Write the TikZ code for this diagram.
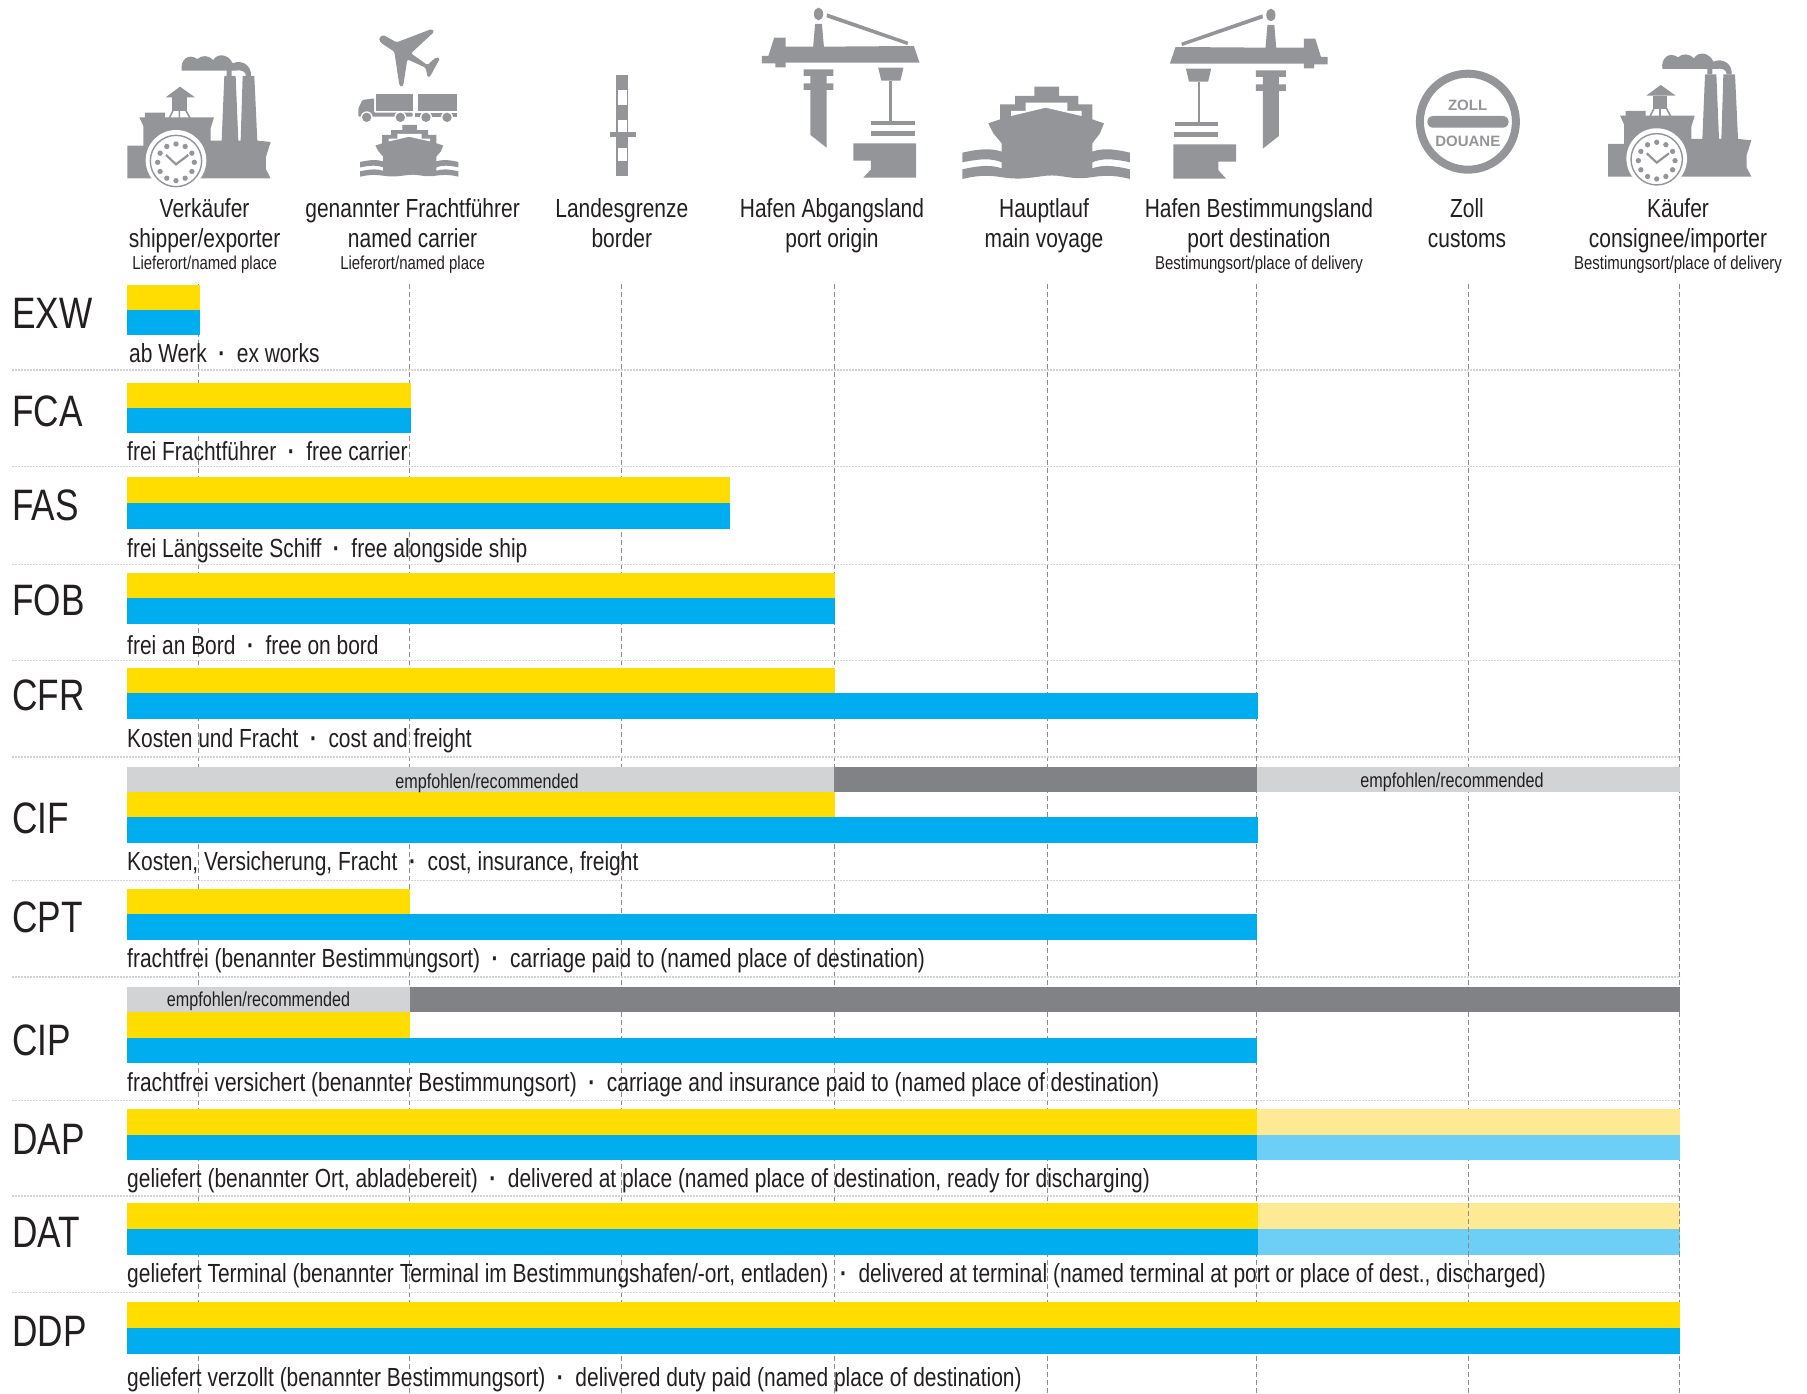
\documentclass[tikz,border=0pt]{standalone}
\usepackage{fontspec}
\setmainfont[FakeStretch=0.8]{Liberation Sans}
\newfontfamily\zollfont[Scale=1]{Liberation Sans}
\definecolor{icongrey}{HTML}{939598}
\definecolor{darkbar}{HTML}{808285}
\definecolor{lightbar}{HTML}{D1D3D4}
\definecolor{barY}{HTML}{FFDD00}
\definecolor{barB}{HTML}{00AEEF}
\definecolor{paleY}{HTML}{FEE995}
\definecolor{paleB}{HTML}{6DCFF6}
\definecolor{txt}{HTML}{231F20}
\tikzset{
 head/.style={anchor=base,inner sep=0pt,text=txt,font=\fontsize{26.2}{29}\selectfont},
 subhead/.style={anchor=base,inner sep=0pt,text=txt,font=\fontsize{18.7}{21}\selectfont},
 code/.style={anchor=base west,inner sep=0pt,text=txt,font=\fontsize{44}{46}\selectfont},
 capt/.style={anchor=base west,inner sep=0pt,text=txt,font=\fontsize{26.2}{29}\selectfont},
 rec/.style={anchor=center,inner sep=0pt,text=txt,font=\fontsize{20.2}{23}\selectfont},
 zolltext/.style={anchor=center,inner sep=0pt,text=icongrey,font=\zollfont\bfseries\fontsize{15}{17}\selectfont},
 sepline/.style={draw=lightbar,line width=1.1pt,dash pattern=on 2pt off 1pt},
 vline/.style={draw=black!45,line width=.9pt,dash pattern=on 4.5pt off 3.5pt},
 ic/.style={fill=icongrey,draw=none}
}
\newcommand{\mdt}{\hspace{.44em}\textbf{·}\hspace{.44em}}
\newcommand{\factoryicon}{%
 \fill[ic] (22,385)--(22,287)--(70,287)--(70,228)--(58,202)--(75,202)--(75,188)--(135,188)--(135,202)--(282,202)--(272,235)--(272,272)--(305,272)--(313,78)--(347,78)--(355,272)--(362,272)--(368,78)--(403,78)--(412,272)--(452,276)--(438,320)--(438,358)--(452,385)--cycle;
 \fill[ic] (180,110)--(225,142)--(137,142)--cycle;
 \fill[ic] (157,142) rectangle (200,182);
 \draw[icongrey,line width=1.6pt] (160,180)--(148,204) (197,180)--(210,204) (178,180)--(178,204);
 \fill[ic] (185,62)..controls (180,30) and (205,8)..(232,27)..controls (245,15) and (265,15)..(280,30)..controls (290,10) and (325,10)..(338,40)..controls (365,28) and (395,45)..(393,78)--(378,78)..controls (378,65) and (365,58)..(345,62)--(335,62)--(335,78)--(320,78)--(320,62)--cycle;
 \fill[white] (168,331) circle [radius=91];
 \draw[icongrey,line width=1.4pt] (168,333) circle [radius=77];
 \foreach \a in {0,30,...,330}{\fill[icongrey] (168,337)++(\a:55) circle [radius=8];}
 \draw[icongrey,line width=2.2pt] (138,315)--(168,343)--(205,315);
}
\newcommand{\craneicon}{%
 \fill[ic] (455,113)--(485,113)--(485,140)--(557,140)--(562,72)--(580,72)--(585,140)--(820,138)--(835,188)--(485,188)--(485,202)--(458,202)--(458,190)--(423,190)--(423,168)--(440,168)--cycle;
 \fill[ic] (571,42) ellipse [x radius=12,y radius=19];
 \fill[ic] (593,40)--(805,125)--(803,135)--(592,52)--cycle;
 \fill[ic] (532,208)--(610,208)--(610,228)--(592,228)--(592,250)--(610,250)--(610,270)--(592,270)--(592,443)--(550,405)--(550,270)--(532,270)--(532,250)--(550,250)--(550,228)--(532,228)--cycle;
 \fill[ic] (727,203)--(793,203)--(785,242)--(735,242)--cycle;
 \fill[ic] (755,242) rectangle (762,362);
 \fill[ic] (708,362) rectangle (822,375);
 \fill[ic] (708,394) rectangle (824,407);
 \fill[ic] (662,430)--(826,430)--(826,533)--(688,533)--(708,508)--(708,482)--(662,482)--cycle;
}
\newcommand{\shipicon}{%
 \fill[ic] (238,20)--(312,20)--(312,48)--(370,48)--(370,73)--(412,73)--(412,118)--(447,130)--(435,160)--(412,190)--(412,215)..controls (440,205) and (470,205)..(525,218)--(525,247)..controls (470,235) and (440,235)..(412,247)--(412,265)..controls (440,255) and (470,255)..(525,268)--(525,297)..controls (470,283) and (440,287)..(400,293)..controls (350,300) and (320,283)..(275,287)..controls (230,292) and (200,300)..(150,293)..controls (110,287) and (80,283)..(22,297)--(22,268)..controls (80,255) and (110,255)..(140,265)--(140,247)..controls (110,235) and (80,235)..(22,247)--(22,218)..controls (80,205) and (110,205)..(140,215)--(140,190)--(115,160)--(100,130)--(135,118)--(135,73)--(180,73)--(180,48)--(238,48)--cycle;
 \fill[white] (168,108)--(272,83)--(380,108)--(380,93)--(337,93)--(337,68)--(212,68)--(212,93)--(168,93)--cycle;
}
\begin{document}
\begin{tikzpicture}[x=1pt,y=-1pt]
\useasboundingbox (0,0) rectangle (1807,1394);
% vertical guides
\foreach \vx in {198.5,409.5,621.5,834,1047,1256.5,1468.7,1679.5}{
 \draw[vline] (\vx,284)--(\vx,1394);
}
% separators
\foreach \sy in {370,466.8,564.7,660.4,757,880.5,977,1100.6,1196,1292.5}{
 \draw[sepline] (12,\sy)--(1680,\sy);
}
% icons
\begin{scope}[xshift=120pt,yshift=-50pt,x=.3333pt,y=-.3333pt]\factoryicon\end{scope}
\begin{scope}[xshift=1600.7pt,yshift=-48.3pt,x=.3333pt,y=-.3333pt]\factoryicon\end{scope}
\begin{scope}[xshift=600pt,x=.3827pt,y=-.3333pt]\craneicon
 % border post
 \fill[ic] (43,226) rectangle (73,527);
 \fill[white] (47,270) rectangle (70,315);
 \fill[white] (47,360) rectangle (70,397);
 \fill[white] (47,443) rectangle (70,482);
 \fill[ic] (25,397) rectangle (94,410);
\end{scope}
\begin{scope}[xshift=1489.4pt,yshift=-1pt,x=-.3827pt,y=-.3333pt]\craneicon\end{scope}
% big ship
\begin{scope}[xshift=955pt,yshift=-80pt,x=.3333pt,y=-.3333pt]\shipicon\end{scope}
% small ship
\begin{scope}[xshift=409.2pt,yshift=-176.7pt,x=.1954pt,y=-.1867pt]
 \begin{scope}[shift={(-273,-297)}]\shipicon\end{scope}
\end{scope}
% plane and truck
\begin{scope}[xshift=350pt,yshift=-20pt,x=.3333pt,y=-.3333pt]
 \fill[ic,rounded corners=1.5pt] (88,52)--(100,45)--(140,67)--(245,27)--(253,35)--(183,100)--(232,135)--(258,112)--(270,115)--(240,170)--(233,172)--(227,143)--(172,118)--(160,195)--(155,202)--(148,195)--(133,95)--(95,70)--(88,62)--cycle;
 \fill[ic] (78,222) rectangle (188,274);
 \fill[ic] (205,222) rectangle (320,274);
 \fill[ic,rounded corners=1pt] (25,290)--(25,265)--(37,240)--(72,235)--(72,278)--(188,278)--(188,290)--cycle;
 \fill[ic] (195,278) rectangle (320,290);
 \foreach \wx in {50,151,228,291}{
  \fill[white] (\wx,292) circle [radius=18];
  \fill[ic] (\wx,292) circle [radius=14];
 }
\end{scope}
% customs sign
\draw[icongrey,line width=8pt] (1467.9,121.7) circle [radius=48];
\fill[ic,rounded corners=5.8pt] (1427.3,116) rectangle (1508.6,127.7);
\node[zolltext] (zoll) at (1467.6,105) {ZOLL};
\node[zolltext] (douane) at (1467.8,141) {DOUANE};
% header texts
\node[head] (h1a) at (204.6,217) {Verkäufer};
\node[head] (h1b) at (204.6,247) {shipper/exporter};
\node[subhead] (h1c) at (204.6,269) {Lieferort/named place};
\node[head] (h2a) at (412.6,217) {genannter Frachtführer};
\node[head] (h2b) at (412.6,247) {named carrier};
\node[subhead] (h2c) at (412.6,269) {Lieferort/named place};
\node[head] (h3a) at (621.8,217) {Landesgrenze};
\node[head] (h3b) at (621.8,247) {border};
\node[head] (h4a) at (832,217) {Hafen Abgangsland};
\node[head] (h4b) at (832,247) {port origin};
\node[head] (h5a) at (1044,217) {Hauptlauf};
\node[head] (h5b) at (1044,247) {main voyage};
\node[head] (h6a) at (1259,217) {Hafen Bestimmungsland};
\node[head] (h6b) at (1259,247) {port destination};
\node[subhead] (h6c) at (1259,269) {Bestimungsort/place of delivery};
\node[head] (h7a) at (1467,217) {Zoll};
\node[head] (h7b) at (1467,247) {customs};
\node[head] (h8a) at (1678,217) {Käufer};
\node[head] (h8b) at (1678,247) {consignee/importer};
\node[subhead] (h8c) at (1678,269) {Bestimungsort/place of delivery};
% EXW
\fill[barY] (127,284.7) rectangle (200,310);
\fill[barB] (127,310) rectangle (200,335.4);
\node[code] (exw) at (12,328) {EXW};
\node[capt] (exwt) at (129,362) {ab Werk\mdt ex works};
% FCA
\fill[barY] (127,382.6) rectangle (411,408);
\fill[barB] (127,408) rectangle (411,433.3);
\node[code] (fca) at (12,426) {FCA};
\node[capt] (fcat) at (127,460) {frei Frachtführer\mdt free carrier};
% FAS
\fill[barY] (127,477) rectangle (729.5,502.5);
\fill[barB] (127,502.5) rectangle (729.5,529);
\node[code] (fas) at (12,520) {FAS};
\node[capt] (fast) at (127,557) {frei Längsseite Schiff\mdt free alongside ship};
% FOB
\fill[barY] (127,572.8) rectangle (834.6,598);
\fill[barB] (127,598) rectangle (834.6,623.8);
\node[code] (fob) at (12,615) {FOB};
\node[capt] (fobt) at (127,654) {frei an Bord\mdt free on bord};
% CFR
\fill[barY] (127,667.5) rectangle (834.6,693);
\fill[barB] (127,693) rectangle (1257.5,719.3);
\node[code] (cfr) at (12,710) {CFR};
\node[capt] (cfrt) at (127,747) {Kosten und Fracht\mdt cost and freight};
% CIF
\fill[lightbar] (127,766.8) rectangle (834,792);
\fill[darkbar] (834,766.8) rectangle (1257,792);
\fill[lightbar] (1257,766.8) rectangle (1679.5,792);
\fill[barY] (127,792) rectangle (834.6,817.3);
\fill[barB] (127,817.3) rectangle (1257.5,843);
\node[rec] (cifr1) at (487,783) {empfohlen/recommended};
\node[rec] (cifr2) at (1452,782) {empfohlen/recommended};
\node[code] (cif) at (12,833) {CIF};
\node[capt] (cift) at (127,870) {Kosten, Versicherung, Fracht\mdt cost, insurance, freight};
% CPT
\fill[barY] (127,888.8) rectangle (409.7,914.3);
\fill[barB] (127,914.3) rectangle (1257,940);
\node[code] (cpt) at (12,932) {CPT};
\node[capt] (cptt) at (127,967) {frachtfrei (benannter Bestimmungsort)\mdt carriage paid to (named place of destination)};
% CIP
\fill[lightbar] (127,986.8) rectangle (409.7,1012.3);
\fill[darkbar] (409.7,986.8) rectangle (1679.5,1012.3);
\fill[barY] (127,1012.3) rectangle (409.7,1037.5);
\fill[barB] (127,1037.5) rectangle (1257,1063);
\node[rec] (cipr) at (258.5,1001) {empfohlen/recommended};
\node[code] (cip) at (12,1055) {CIP};
\node[capt] (cipt) at (127,1091) {frachtfrei versichert (benannter Bestimmungsort)\mdt carriage and insurance paid to (named place of destination)};
% DAP
\fill[barY] (127,1109.2) rectangle (1257,1134.5);
\fill[barB] (127,1134.5) rectangle (1257,1160);
\fill[paleY] (1257,1108.7) rectangle (1679.5,1134.5);
\fill[paleB] (1257,1134.5) rectangle (1679.5,1160);
\node[code] (dap) at (12,1154) {DAP};
\node[capt] (dapt) at (127,1187) {geliefert (benannter Ort, abladebereit)\mdt delivered at place (named place of destination, ready for discharging)};
% DAT
\fill[barY] (127,1203.3) rectangle (1258,1229.3);
\fill[barB] (127,1229.3) rectangle (1258,1255);
\fill[paleY] (1258,1203.3) rectangle (1679.5,1229.3);
\fill[paleB] (1258,1229.3) rectangle (1679.5,1255);
\draw[vline] (1468.7,1203.3)--(1468.7,1255);
\draw[vline] (1679.5,1203.3)--(1679.5,1255);
\node[code] (dat) at (12,1247) {DAT};
\node[capt] (datt) at (127,1282) {geliefert Terminal (benannter Terminal im Bestimmungshafen/-ort, entladen)\mdt delivered at terminal (named terminal at port or place of dest., discharged)};
% DDP
\fill[barY] (127,1302.3) rectangle (1679.5,1328.3);
\fill[barB] (127,1328.3) rectangle (1679.5,1354);
\node[code] (ddp) at (12,1346) {DDP};
\node[capt] (ddpt) at (127,1386) {geliefert verzollt (benannter Bestimmungsort)\mdt delivered duty paid (named place of destination)};
\end{tikzpicture}
\end{document}
